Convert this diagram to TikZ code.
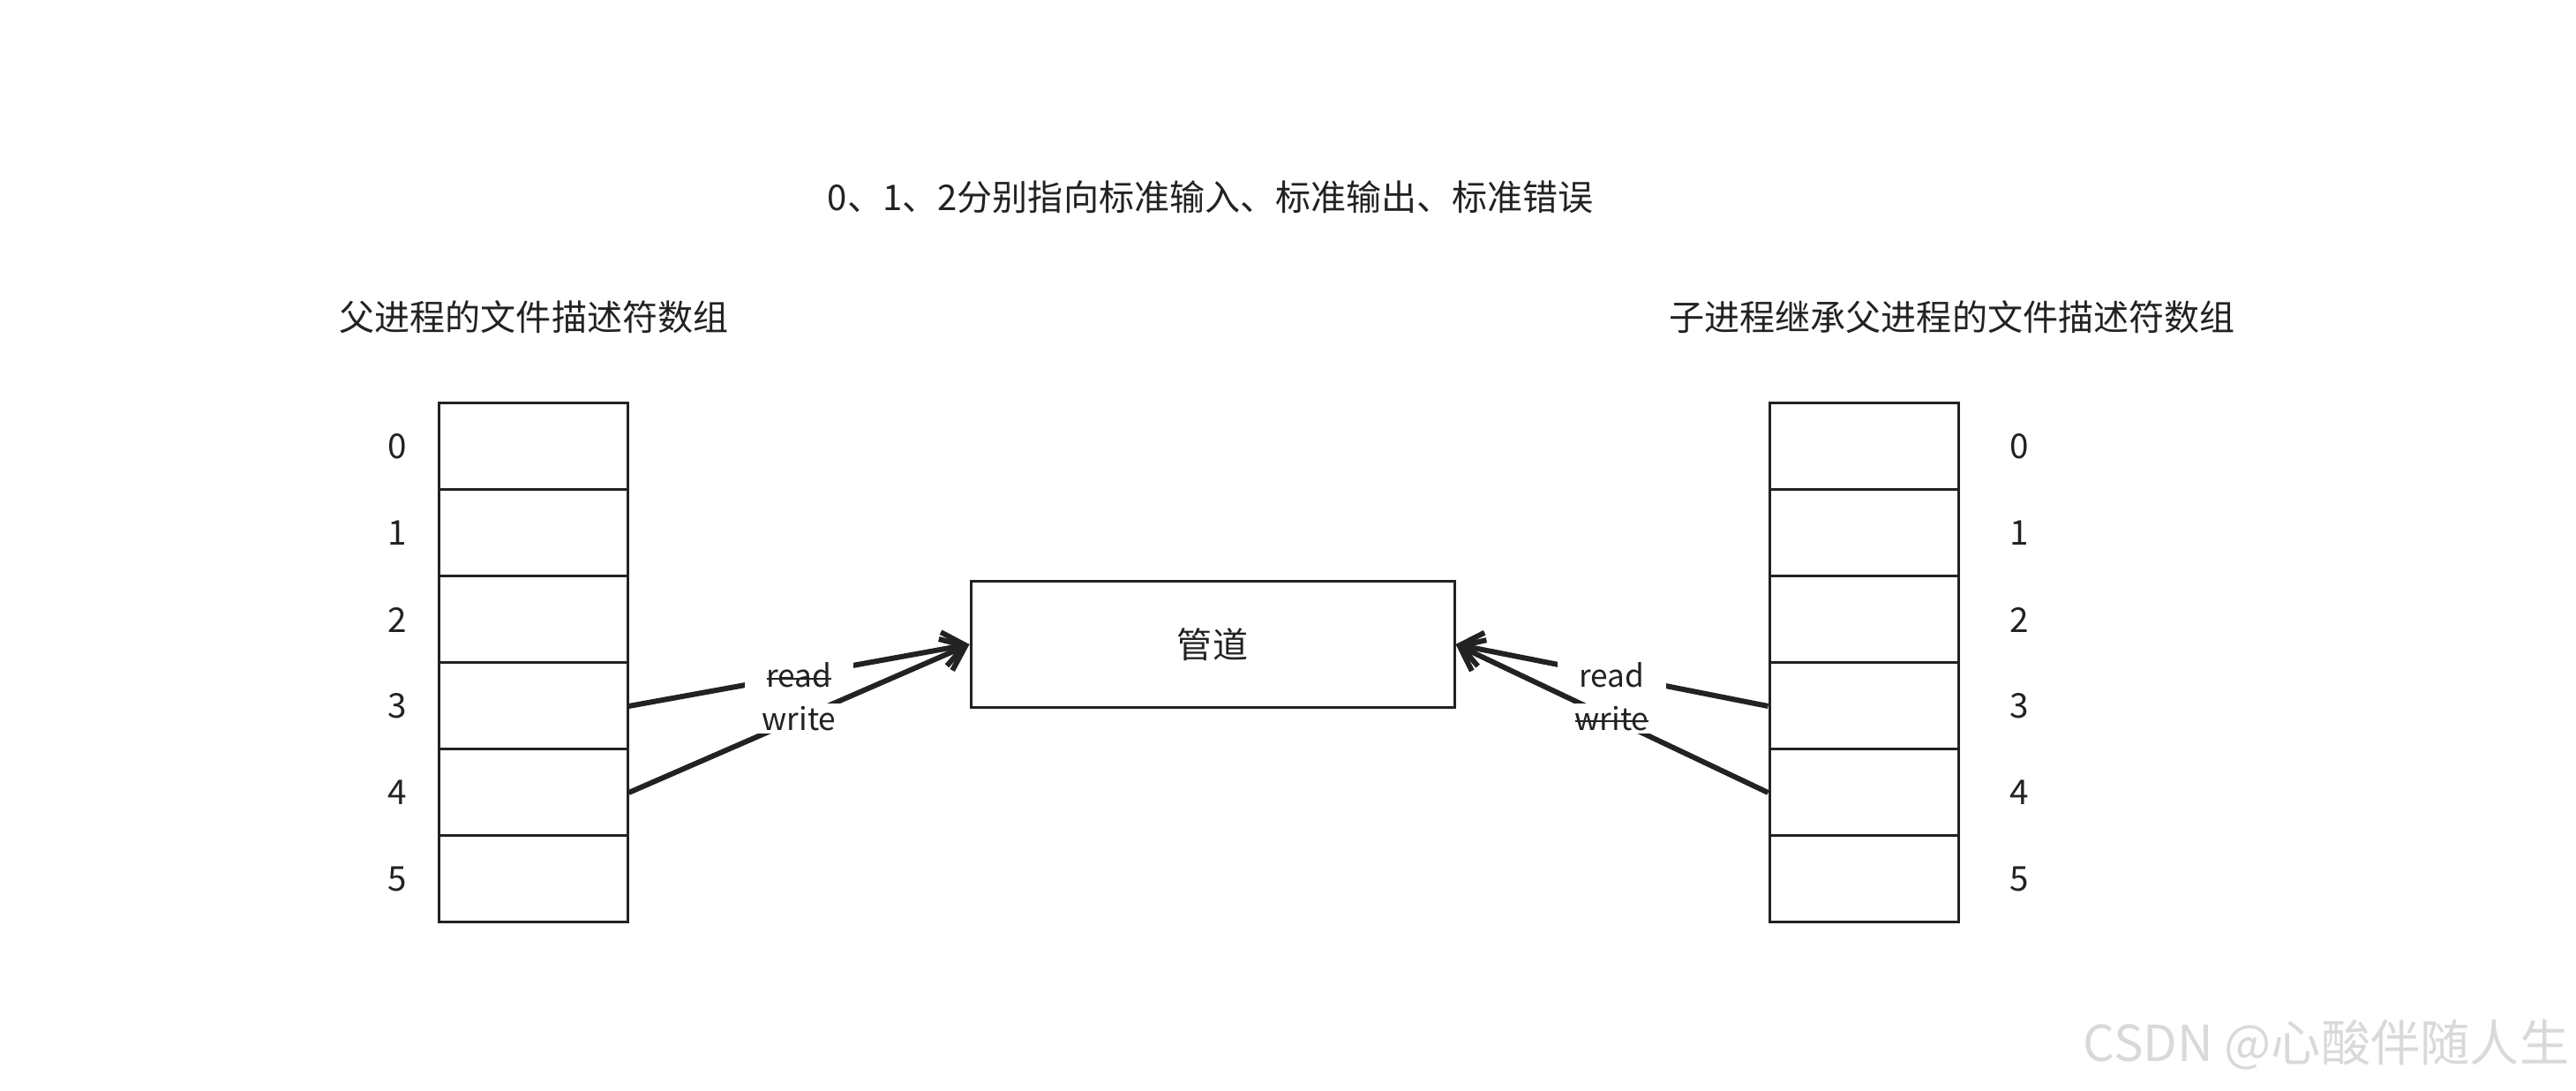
\documentclass[tikz,border=0pt]{standalone}
\usepackage{fontspec}
\newfontfamily\cjk{Noto Sans CJK SC}
\usetikzlibrary{arrows.meta}
\usetikzlibrary{positioning}
\definecolor{ink}{HTML}{222222}
\newcommand{\strk}[1]{\setbox0\hbox{#1}\rlap{\rule[0.26em]{\wd0}{0.5pt}}\box0}

\begin{document}
\begin{tikzpicture}[
  cell/.style={draw=ink, line width=0.85pt, minimum width=2.14cm, minimum height=0.98cm, inner sep=0pt},
  idx/.style={font=\cjk\fontsize{11pt}{13pt}\selectfont, text=ink},
  head/.style={font=\cjk\fontsize{11.4pt}{14pt}\selectfont, text=ink},
  fd/.style={draw=ink, line width=1.7pt, -{Straight Barb[length=7pt,width=11pt]}},
  rw/.style={fill=white, inner xsep=7pt, inner ysep=1pt, font=\cjk\fontsize{10pt}{12pt}\selectfont, text=ink}]
\useasboundingbox (0,0) rectangle (29.19,12.36);

\node[head] (title) at (13.72,10.13) {0、1、2分别指向标准输入、标准输出、标准错误};
\node[head] (phead) at (6.05,8.77) {父进程的文件描述符数组};
\node[head] (chead) at (22.12,8.77) {子进程继承父进程的文件描述符数组};

% fd tables
\foreach \i in {0,...,5} {
  \node[cell] (p\i) at (6.04,{7.30-0.98*\i}) {};
  \node[idx, left=0.22cm of p\i.west] (pn\i) {\i};
  \node[cell] (c\i) at (21.12,{7.30-0.98*\i}) {};
  \node[idx, right=0.45cm of c\i.east] (cn\i) {\i};
}

\node[cell, minimum width=5.48cm, minimum height=1.43cm, head] (pipe) at (13.74,5.06) {管道};

\draw[fd] (p3.east) -- node[rw] {\strk{read}} (pipe.west);
\draw[fd] (p4.east) -- node[rw] {write} (pipe.west);
\draw[fd] (c3.west) -- node[rw] {read} (pipe.east);
\draw[fd] (c4.west) -- node[rw] {\strk{write}} (pipe.east);

\node[font=\cjk\fontsize{16pt}{18pt}\selectfont, text=gray!30, anchor=east, inner sep=0pt] (mark) at (29.12,0.52) {CSDN @心酸伴随人生};
\end{tikzpicture}
\end{document}
